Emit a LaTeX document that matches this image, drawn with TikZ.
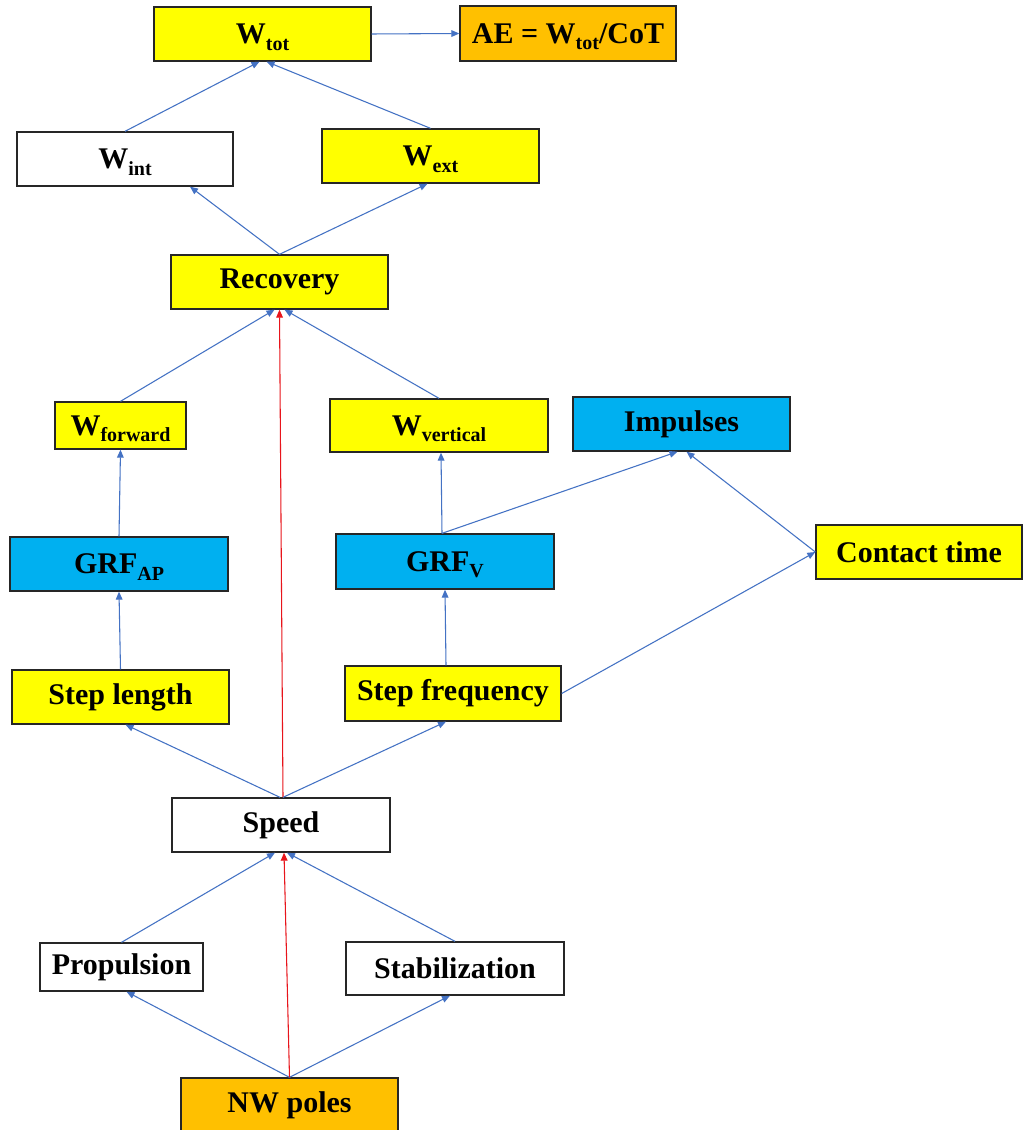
\documentclass[tikz,border=0pt]{standalone}
\usepackage{fontspec}
\setmainfont{Liberation Serif}
\usetikzlibrary{arrows.meta,calc}
\definecolor{ylw}{HTML}{FFFF00}
\definecolor{org}{HTML}{FFC000}
\definecolor{cyn}{HTML}{00B0F0}
\definecolor{arr}{HTML}{4472C4}
\definecolor{redarr}{HTML}{E8141B}
\newcommand\sbs[1]{\raisebox{-0.22em}[\height][0pt]{\fontsize{15pt}{15pt}\selectfont #1}}
\begin{document}
\begin{tikzpicture}[x=0.75pt,y=-0.75pt,
  box/.style={draw=black!85, line width=1pt, inner sep=0pt, text=black,
    font=\fontsize{22.5pt}{27pt}\selectfont\bfseries},
  sz/.style 2 args={minimum width=#1*0.75pt, minimum height=#2*0.75pt},
  yb/.style={box, fill=ylw},
  ob/.style={box, fill=org},
  cb/.style={box, fill=cyn},
  wb/.style={box, fill=white},
  link/.style={draw=arr, line width=0.8pt, -{Triangle[length=6pt,width=5pt]}},
  redlink/.style={draw=redarr, line width=0.8pt, -{Triangle[length=6pt,width=5pt]}}
]
\useasboundingbox[fill=white] (0,0) rectangle (1023,1130);

% nodes
\node[yb, sz={217}{54}] (Wtot) at (262.5,34) {W\sbs{tot}};
\node[ob, sz={216}{55}] (AE) at (568,33.5) {AE = W\sbs{tot}/CoT};
\node[wb, sz={216}{54}] (Wint) at (125,159) {W\sbs{int}};
\node[yb, sz={217}{54}] (Wext) at (430.5,156) {W\sbs{ext}};
\node[yb, sz={217}{54}] (Rec) at (279.5,282) {Recovery};
\node[yb, sz={131}{47}] (Wfwd) at (120.5,425.5) {W\sbs{forward}};
\node[yb, sz={218}{53}] (Wvert) at (439,425.5) {W\sbs{vertical}};
\node[cb, sz={217}{54}] (Imp) at (681.5,424) {Impulses};
\node[cb, sz={218}{54}] (GRFAP) at (119,564) {GRF\sbs{AP}};
\node[cb, sz={218}{55}] (GRFV) at (445,561.5) {GRF\sbs{V}};
\node[yb, sz={206}{54}] (CT) at (919,552) {Contact time};
\node[yb, sz={217}{54}] (SL) at (120.5,697) {Step length};
\node[yb, sz={216}{55}] (SF) at (453,693.5) {Step frequency};
\node[wb, sz={218}{54}] (Speed) at (281,825) {Speed};
\node[wb, sz={163}{48}] (Prop) at (121.5,967) {Propulsion};
\node[wb, sz={218}{53}] (Stab) at (455,968.5) {Stabilization};
\node[ob, sz={217}{54}] (NW) at (289.5,1105) {NW poles};

% connectors
\draw[link] (Wtot.east) -- (AE.west);
\draw[link] (Wint.north) -- ($(Wtot.south)+(-3,0)$);
\draw[link] (Wext.north) -- ($(Wtot.south)+(4,0)$);
\draw[link] (Rec.north) -- ($(Wint.south)+(65,0)$);
\draw[link] (Rec.north) -- ($(Wext.south)+(-3,0)$);
\draw[link] (Wfwd.north) -- ($(Rec.south)+(-5,0)$);
\draw[link] (Wvert.north) -- ($(Rec.south)+(5,0)$);
\draw[redlink] ($(Speed.north)+(2,0)$) -- (Rec.south);
\draw[link] (GRFAP.north) -- (Wfwd.south);
\draw[link] ($(GRFV.north)+(-3,0)$) -- ($(Wvert.south)+(2,0)$);
\draw[link] ($(GRFV.north)+(-3,0)$) -- ($(Imp.south)+(-4,0)$);
\draw[link] (CT.west) -- ($(Imp.south)+(5,0)$);
\draw[link] (SF.east) -- (CT.west);
\draw[link] (SL.north) -- (GRFAP.south);
\draw[link] ($(SF.north)+(-7,0)$) -- (GRFV.south);
\draw[link] ($(Speed.north)+(-1,0)$) -- ($(SL.south)+(5,0)$);
\draw[link] ($(Speed.north)+(2,0)$) -- ($(SF.south)+(-7,0)$);
\draw[link] (Prop.north) -- ($(Speed.south)+(-6,0)$);
\draw[link] (Stab.north) -- ($(Speed.south)+(6,0)$);
\draw[link] (NW.north) -- ($(Prop.south)+(5,0)$);
\draw[link] (NW.north) -- ($(Stab.south)+(-5,0)$);
\draw[redlink] (NW.north) -- ($(Speed.south)+(3,0)$);
\end{tikzpicture}
\end{document}
